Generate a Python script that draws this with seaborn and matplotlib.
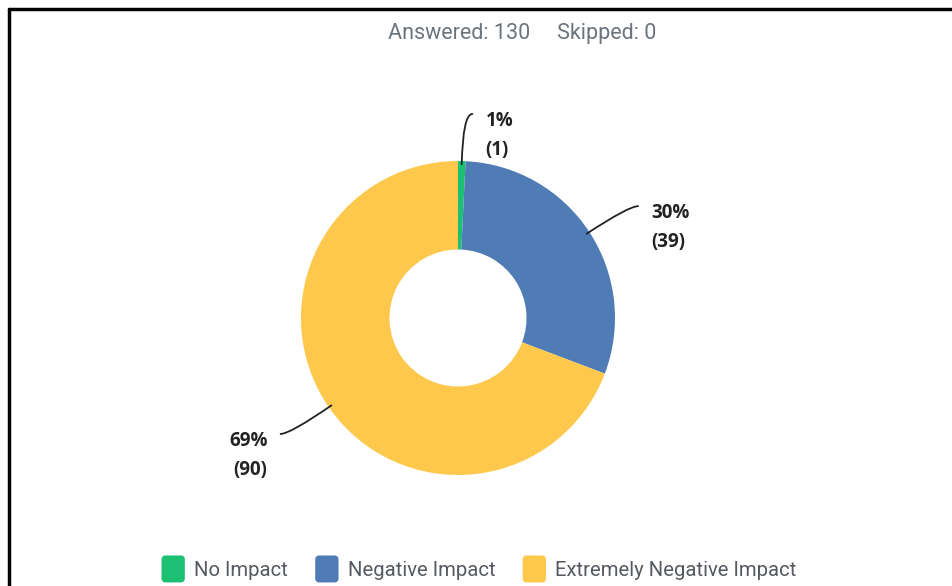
import numpy as np
import matplotlib
matplotlib.use("Agg")
import matplotlib.pyplot as plt
import seaborn as sns
from matplotlib.patches import Patch, FancyBboxPatch
from matplotlib.legend_handler import HandlerPatch

categories = ["No Impact", "Negative Impact", "Extremely Negative Impact"]
counts = [1, 39, 90]
percents = ["1%", "30%", "69%"]
colors = ["#1dbf73", "#507cb6", "#fec84d"]
answered = 130
skipped = 0

sns.set_theme(style="white")
plt.rcParams["font.family"] = ["Open Sans", "DejaVu Sans"]

W, H = 952, 586
fig = plt.figure(figsize=(W / 100, H / 100), dpi=100)
fig.patch.set_facecolor("white")

cx, cy, R = 458, 318, 157
hx, hy = 320, 300
ax = fig.add_axes([(cx - hx) / W, (H - cy - hy) / H, 2 * hx / W, 2 * hy / H])
ax.axis("off")

wedges, _ = ax.pie(counts, colors=colors, startangle=90, counterclock=False,
                   radius=1.0, wedgeprops=dict(width=1 - 68.5 / 157, edgecolor="none"))
ax.set_aspect("auto")
ax.set_xlim(-hx / R, hx / R)
ax.set_ylim(-hy / R, hy / R)

total = sum(counts)
start = 90.0
for i, (c, p) in enumerate(zip(counts, percents)):
    span = c / total * 360
    mid = start - span / 2
    start -= span
    t = np.deg2rad(mid)
    p0 = (0.98 * np.cos(t), 0.98 * np.sin(t))
    rr = 1.3
    side = 1 if np.cos(t) >= 0 else -1
    p1 = (rr * np.cos(t) + 0.06 * side, rr * np.sin(t))
    ax.annotate("", xy=p0, xytext=p1, annotation_clip=False,
                arrowprops=dict(arrowstyle="-", color="#222222", lw=1.3,
                                shrinkA=0, shrinkB=0,
                                connectionstyle=f"angle3,angleA=0,angleB={mid}"))
    ax.annotate(f"{p}\n({c})", xy=p1, xytext=(13 * side, 3), textcoords="offset pixels",
                ha="left" if side > 0 else "right", va="top", fontsize=13.5,
                fontweight="bold", color="#222222", linespacing=1.6,
                annotation_clip=False)

fig.text(522 / W, 1 - 34 / H, f"Answered: {answered}     Skipped: {skipped}",
         ha="center", va="center", fontsize=15.5, color="#6b747d", family=["Roboto", "DejaVu Sans"])


class RoundHandler(HandlerPatch):
    def create_artists(self, legend, orig_handle, xdescent, ydescent, width, height, fontsize, trans):
        p = FancyBboxPatch((-xdescent, -ydescent - 2), width, height + 4,
                           boxstyle="round,pad=0,rounding_size=3",
                           facecolor=orig_handle.get_facecolor(), edgecolor="none", transform=trans)
        return [p]


handles = [Patch(facecolor=col, edgecolor="none", label=cat) for col, cat in zip(colors, categories)]
leg = fig.legend(handles=handles, loc="center", bbox_to_anchor=(479 / W, 1 - 569 / H), ncol=3,
                 frameon=False, handlelength=1.15, handleheight=1.25,
                 handletextpad=0.45, columnspacing=1.35,
                 handler_map={Patch: RoundHandler()},
                 prop=dict(family=["Roboto", "DejaVu Sans"], size=14.6))
for t in leg.get_texts():
    t.set_color("#555a60")

# outer frame of the screenshot
fig.add_artist(plt.Line2D([9 / W, 1], [1 - 9 / H, 1 - 9 / H], color="black", lw=2.5))
fig.add_artist(plt.Line2D([9 / W, 9 / W], [0, 1 - 9 / H], color="black", lw=2.5))

fig.savefig("out.png", dpi=100, facecolor="white")
